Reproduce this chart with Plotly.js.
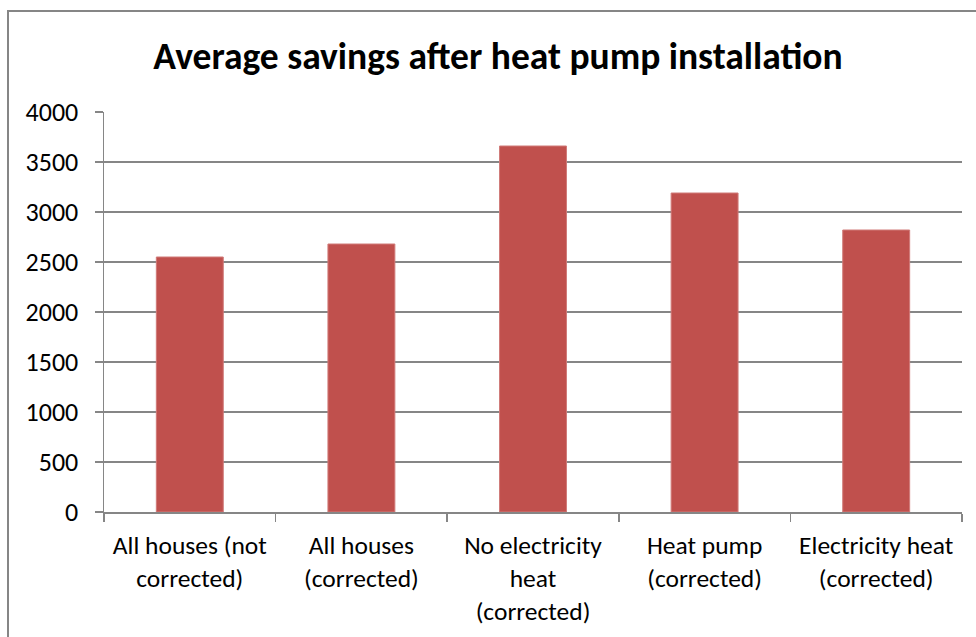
<!DOCTYPE html>
<html>
<head>
<meta charset="utf-8">
<script src="https://cdn.plot.ly/plotly-3.0.1.min.js"></script>
<style>
  html, body { margin: 0; padding: 0; background: #fff; overflow: hidden; }
  #frame { position: absolute; left: 7px; top: 10px; width: 990px; height: 650px; border: 2px solid #868686; box-sizing: border-box; }
  #chart { position: absolute; left: 0; top: 0; width: 976px; height: 637px; }
</style>
</head>
<body>
<div id="frame"></div>
<div id="chart"></div>
<script>
const categories = [
  "All houses (not<br>corrected)",
  "All houses<br>(corrected)",
  "No electricity<br>heat<br>(corrected)",
  "Heat pump<br>(corrected)",
  "Electricity heat<br>(corrected)"
];
const savings = [2550, 2680, 3660, 3190, 2820];
const yTicks = [0, 500, 1000, 1500, 2000, 2500, 3000, 3500, 4000];

const FONT = "Carlito, Calibri, 'Liberation Sans Narrow', 'Open Sans', sans-serif";

const trace = {
  type: 'bar',
  x: categories,
  y: savings,
  marker: { color: '#C0504D', line: { color: '#D07A78', width: 1 } },
  hoverinfo: 'none'
};

const layout = {
  width: 976,
  height: 637,
  margin: { l: 104, r: 14, t: 112, b: 125 },
  paper_bgcolor: 'rgba(0,0,0,0)',
  plot_bgcolor: 'rgba(0,0,0,0)',
  bargap: 0.61,
  showlegend: false,
  title: {
    text: '<b>Average savings after heat pump installation</b>',
    font: { family: FONT, size: 37.5, color: '#000' },
    x: 498 / 976, xanchor: 'center',
    y: 1 - 56 / 637, yanchor: 'middle'
  },
  xaxis: {
    type: 'category',
    showline: true, linecolor: '#868686', linewidth: 1.5,
    ticks: 'outside', tickson: 'boundaries', ticklen: 8, tickcolor: '#868686', tickwidth: 1.5,
    showgrid: false,
    ticklabelstandoff: 10,
    tickfont: { family: FONT, size: 25.5, color: '#000' },
    automargin: false
  },
  yaxis: {
    range: [0, 4000],
    tickvals: yTicks,
    ticktext: yTicks.map(String),
    showline: true, linecolor: '#868686', linewidth: 1.5,
    ticks: 'outside', ticklen: 8, tickcolor: '#868686', tickwidth: 1.5,
    showgrid: true, gridcolor: '#868686', gridwidth: 1.5,
    zeroline: false,
    ticklabelstandoff: 11,
    tickfont: { family: FONT, size: 26, color: '#000' },
    automargin: false
  }
};

Plotly.newPlot('chart', [trace], layout, { displayModeBar: false, staticPlot: true });
</script>
</body>
</html>
